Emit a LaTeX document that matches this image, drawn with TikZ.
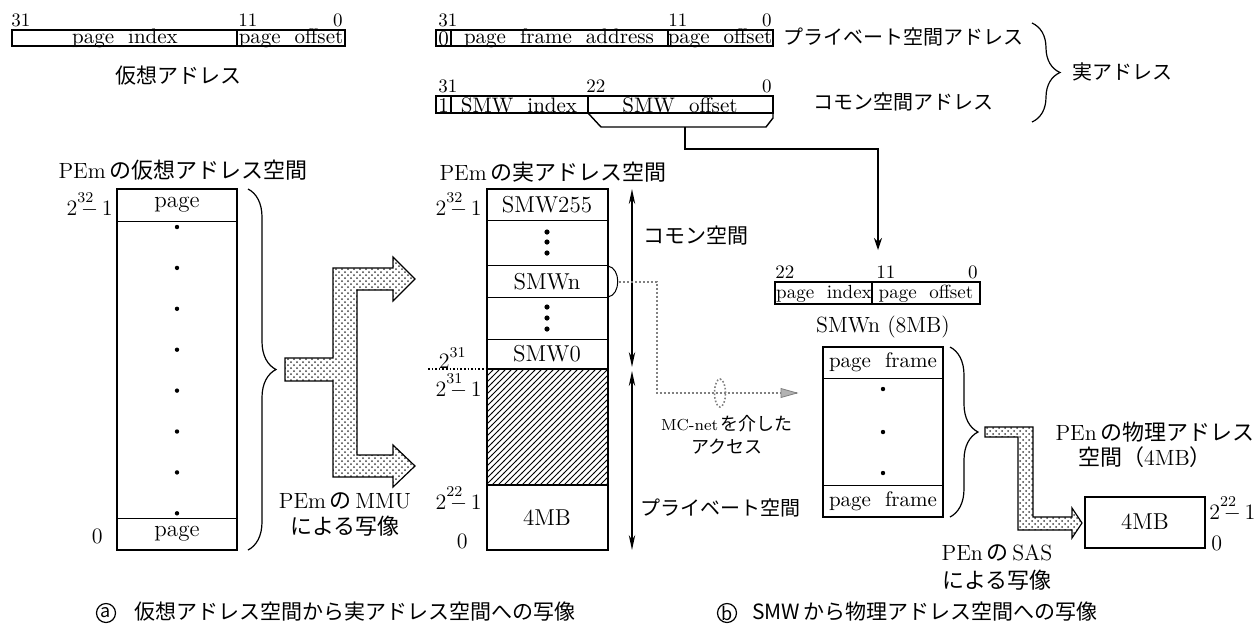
\documentclass[tikz,border=0pt]{standalone}
\usepackage{fontspec}
\newfontfamily\jp{Noto Sans CJK JP}
\usetikzlibrary{patterns,decorations.pathreplacing,arrows.meta,shapes.geometric}
\newcommand\twopowm[1]{2\rlap{\raisebox{1.45ex}{\fontsize{7.5}{8}\selectfont #1}}\,$-$\,1}
\newcommand\twopow[1]{2\raisebox{1.2ex}{\fontsize{7.5}{8}\selectfont #1}}
\begin{document}
\begin{tikzpicture}[x=0.5pt,y=-0.5pt,
  bit/.style={inner sep=0pt, font=\fontsize{9.5}{10}\selectfont},
  fld/.style={inner sep=0pt, font=\fontsize{10.5}{11}\selectfont},
  sfld/.style={inner sep=0pt, font=\fontsize{9.5}{10}\selectfont},
  cell/.style={inner sep=0pt, font=\fontsize{11.5}{13}\selectfont},
  lbl/.style={inner sep=0pt, font=\fontsize{11}{13}\selectfont},
  jlbl/.style={inner sep=0pt, font=\jp\fontsize{10}{12}\selectfont},
  captxt/.style={inner sep=0pt, font=\jp\fontsize{10.5}{12}\selectfont},
  circl/.style={draw, circle, line width=0.6pt, inner sep=0pt, minimum size=9.5pt, font=\jp\fontsize{9}{9}\selectfont},
  small/.style={inner sep=0pt, font=\fontsize{8}{10}\selectfont},
  fbox/.style={draw, line width=0.7pt},
  mbox/.style={draw, line width=1.3pt},
  thinl/.style={line width=0.5pt},
  fat/.style={draw, line width=0.6pt, preaction={fill=white}, pattern=crosshatch dots, pattern color=black!75},
  brc/.style={decorate, decoration={brace, amplitude=14pt}, line width=0.6pt},
  dbl/.style={line width=0.8pt, {Stealth[length=7.5pt,width=3.2pt]}-{Stealth[length=7.5pt,width=3.2pt]}},
  conn/.style={line width=0.6pt, -{Stealth[length=6pt,width=4pt]}},
  dotc/.style={draw=gray, line width=1pt, densely dotted},
  dotfill/.style={circle, fill, inner sep=0pt, minimum size=2.2pt},
]
\useasboundingbox (0,0) rectangle (1254,629);

% ---------- virtual address format ----------
\draw[fbox] (12,30) rectangle (345,46);
\draw[fbox] (237,30) -- (237,46);
\node[bit, anchor=south west] (v31) at (11,27) {31};
\node[bit, anchor=south west] (v11) at (238,27) {11};
\node[bit, anchor=south east] (v0) at (343,27) {0};
\node[fld] (vpi) at (125,38.5) {page\ \ index};
\node[fld] (vpo) at (291,38.5) {page\ \ offset};
\node[jlbl, font=\jp\fontsize{10.5}{12}\selectfont] (vaddr) at (178,76) {仮想アドレス};

% ---------- private real address format ----------
\draw[fbox] (436,30) rectangle (773,46);
\draw[fbox] (451,30) -- (451,46);
\draw[fbox] (668,30) -- (668,46);
\node[bit, anchor=south west] (p31) at (438,27) {31};
\node[bit, anchor=south west] (p11) at (668,27) {11};
\node[bit, anchor=south east] (p0) at (772,27) {0};
\node[fld] (p0f) at (443.5,38.5) {0};
\node[fld] (pfa) at (559,38.5) {page\ \ frame\ \ address};
\node[fld] (ppo) at (720,38.5) {page\ \ offset};
\node[jlbl] (privaddr) at (903,37) {プライベート空間アドレス};

% ---------- common real address format ----------
\draw[fbox] (436,96) rectangle (773,113);
\draw[fbox] (451,96) -- (451,113);
\draw[fbox] (588,96) -- (588,113);
\draw[fbox] (588,113) -- (601,127) -- (766,127) -- (773,118) -- (773,113);
\node[bit, anchor=south west] (c31) at (438,93) {31};
\node[bit, anchor=south west] (c22) at (586,93) {22};
\node[bit, anchor=south east] (c0) at (772,93) {0};
\node[fld] (c1f) at (443.5,105) {1};
\node[fld] (smwi) at (519,105) {SMW\ \ index};
\node[fld] (smwo) at (680,105) {SMW\ \ offset};
\node[jlbl] (comaddr) at (903,102) {コモン空間アドレス};
\coordinate (trap) at (685,127);

% brace real address
\draw[brc] (1032,23) -- (1032,122);
\node[jlbl, anchor=west] (realaddr) at (1072,72) {実アドレス};

% ---------- virtual address space ----------
\node[lbl] (vhead) at (183,170) {PEm\,{\jp の仮想アドレス空間}};
\draw[mbox] (117,189) rectangle (237,550);
\draw[thinl] (117,221) -- (237,221);
\draw[thinl] (117,518) -- (237,518);
\node[cell] (vtop) at (177,205) {page};
\node[cell] (vbot) at (177,534) {page};
\foreach \i in {0,...,7} \node[dotfill] at (177,{227+\i*40.9}) {};
\node[lbl, anchor=east] (v232) at (113,205) {\twopowm{32}};
\node[lbl, anchor=east] (vzero) at (103,536) {0};
\draw[brc] (248,189) -- (248,550);
\coordinate (vtip) at (278,369);

% MMU fat arrow
\draw[fat] (285,358) -- (333,358) -- (333,268) -- (393,268) -- (393,257) -- (415,279) -- (393,301) -- (393,290) -- (357,290) -- (357,455) -- (393,455) -- (393,445) -- (415,466) -- (393,487) -- (393,477) -- (333,477) -- (333,381) -- (285,381) -- cycle;
\node[lbl] (mmu1) at (345,501) {PEm\,{\jp の}\,MMU};
\node[lbl] (mmu2) at (345,526) {\jp による写像};

% ---------- real address space ----------
\node[lbl] (rhead) at (553,172) {PEm\,{\jp の実アドレス空間}};
\fill[white] (487,369) rectangle (608,485);
\fill[pattern=north east lines] (487,369) rectangle (608,485);
\draw[thinl] (487,220.5) -- (608,220.5);
\draw[thinl] (487,265.7) -- (608,265.7);
\draw[thinl] (487,297.2) -- (608,297.2);
\draw[thinl] (487,339.5) -- (608,339.5);
\draw[line width=1.1pt] (487,369) -- (608,369);
\draw[line width=0.8pt] (487,485) -- (608,485);
\draw[mbox] (487,189) rectangle (608,550);
\node[cell] (smw255) at (547,205) {SMW255};
\node[cell] (smwn) at (547,281.5) {SMWn};
\node[cell] (smw0) at (547,354) {SMW0};
\node[cell] (fourmb) at (547,518) {4MB};
\foreach \y in {232,242,253,307,318,329} \node[dotfill, minimum size=2.6pt] at (547,\y) {};
\node[lbl, anchor=east] (r232) at (482,205) {\twopowm{32}};
\node[lbl, anchor=east] (r231) at (466,358) {\twopow{31}};
\node[lbl, anchor=east] (r2311) at (482,386) {\twopowm{31}};
\node[lbl, anchor=east] (r222) at (482,499) {\twopowm{22}};
\node[lbl, anchor=east] (rzero) at (468,541) {0};
\coordinate (dl) at (428,369);
\coordinate (dr) at (487,369);
\draw[line width=0.8pt, densely dotted] (dl) -- (dr);

\coordinate (ca) at (632,189);
\coordinate (cb) at (632,367);
\coordinate (pa) at (632,371);
\coordinate (pb) at (632,550);
\draw[dbl] (ca) -- (cb);
\draw[dbl] (pa) -- (pb);
\node[jlbl, anchor=west, font=\jp\fontsize{10.5}{12}\selectfont] (comsp) at (643,236) {コモン空間};
\node[jlbl, anchor=west] (privsp) at (640,508) {プライベート空間};

% SMWn access via MC-net
\coordinate (sa) at (608,266);
\coordinate (sb) at (608,297);
\coordinate (sm) at (619,281.5);
\draw[line width=0.5pt] (sa) .. controls (621,268) and (621,295) .. (sb);
\coordinate (acc) at (797,393);
\draw[dotc] (sm) -- (657,281.5) |- (acc);
\draw[gray, fill=gray!60, line width=0.4pt] (acc) -- ++(-16,-4.5) -- ++(0,9) -- cycle;
\node[draw=gray, densely dotted, line width=0.8pt, ellipse, minimum width=5.5pt, minimum height=14pt, inner sep=0pt] (mcnet) at (720,393) {};
\node[small] (mc1) at (727,424) {MC-net\,{\jp\fontsize{9}{10}\selectfont を介した}};
\node[jlbl, font=\jp\fontsize{9}{10}\selectfont] (mc2) at (727,447) {アクセス};

% arrow to SMWn field
\coordinate (smwtop) at (878,250);
\draw[conn] (trap) -- (685,149) -| (smwtop);

% ---------- SMWn field ----------
\draw[fbox] (775,282) rectangle (980,304);
\draw[fbox] (872,282) -- (872,304);
\node[bit, anchor=south west] (s22) at (775,279) {22};
\node[bit, anchor=south west] (s11) at (876,279) {11};
\node[bit, anchor=south east] (s0) at (978,279) {0};
\node[sfld] (spi) at (824,293.5) {page\ \ index};
\node[sfld] (spo) at (926,293.5) {page\ \ offset};
\node[lbl] (smw8) at (883,327) {SMWn\ (8MB)};

% page frame box
\draw[line width=0.8pt] (823,347) rectangle (943,517);
\draw[thinl] (823,378) -- (943,378);
\draw[thinl] (823,485) -- (943,485);
\node[fld, font=\fontsize{10.5}{12}\selectfont] (pf1) at (883,362.5) {page\ \ frame};
\node[fld, font=\fontsize{10.5}{12}\selectfont] (pf2) at (883,501) {page\ \ frame};
\foreach \y in {389,432,473} \node[dotfill] at (883,\y) {};
\draw[brc] (950,347) -- (950,517);

% SAS fat arrow
\draw[fat] (985,427) -- (1033,427) -- (1033,517) -- (1072,517) -- (1072,508) -- (1082,523) -- (1072,538) -- (1072,530) -- (1018,530) -- (1018,437) -- (985,437) -- cycle;
\node[lbl] (sas1) at (997,553) {PEn\,{\jp の}\,SAS};
\node[lbl] (sas2) at (997,580) {\jp による写像};

% physical space
\node[lbl] (phys1) at (1155,432) {PEn\,{\jp の物理アドレス}};
\node[lbl] (phys2) at (1145,457) {{\jp 空間（}4MB{\jp ）}};
\draw[mbox] (1085,497) rectangle (1205,548);
\node[cell] (p4mb) at (1145,522) {4MB};
\node[lbl, anchor=west] (p222) at (1209,509) {\twopowm{22}};
\node[lbl, anchor=west] (pzero) at (1211,543) {0};

% ---------- captions ----------
\node[circl] (capa) at (106,613) {a};
\node[captxt, anchor=west] (capat) at (134,612) {仮想アドレス空間から実アドレス空間への写像};
\node[circl] (capb) at (727,613) {b};
\node[captxt, anchor=west] (capbt) at (752,612) {SMW\,から物理アドレス空間への写像};
\end{tikzpicture}
\end{document}
